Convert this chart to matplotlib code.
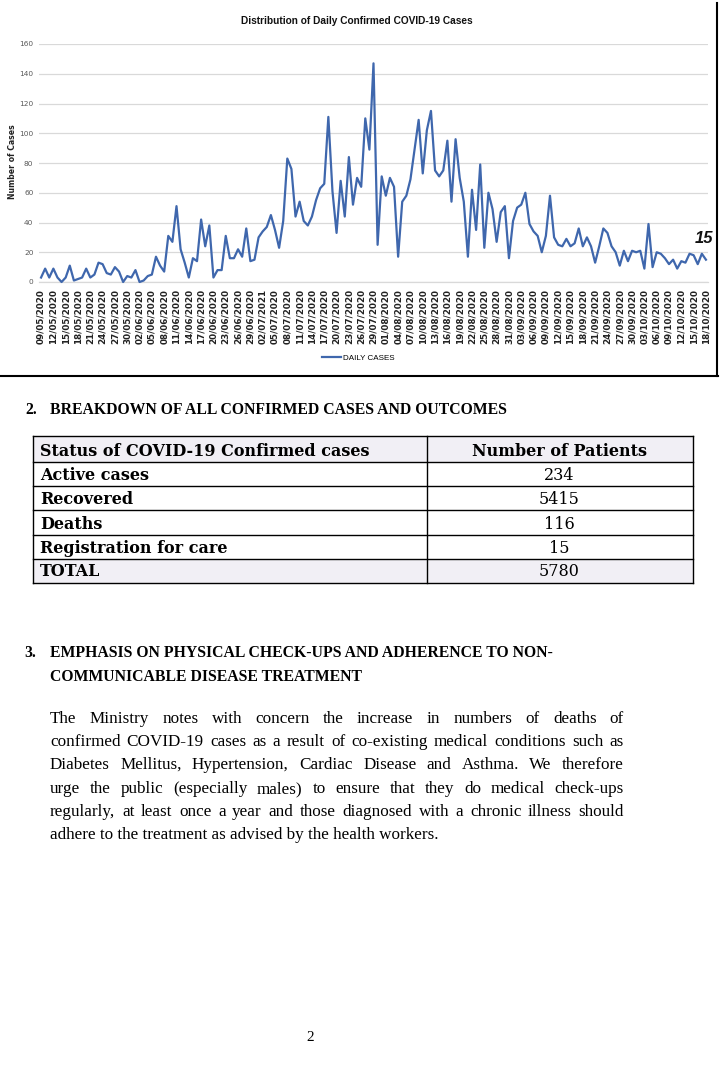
import matplotlib
matplotlib.use('Agg')
import matplotlib.pyplot as plt
from matplotlib.lines import Line2D
from matplotlib.patches import Rectangle

# ---------------- data ----------------
daily_cases = [
    3, 9, 3, 9, 3, 0, 3, 11, 1, 2, 3, 9, 3, 5, 13, 12, 6, 5, 10, 7, 0, 4, 3, 8, 0, 1, 4, 5,
    17, 11, 7, 31, 27, 51, 22, 13, 3, 16, 14, 42, 24, 38, 3, 8, 8, 31, 16, 16, 22, 17, 36, 14, 15, 30, 34, 37,
    45, 35, 23, 41, 83, 76, 44, 54, 41, 38, 44, 55, 63, 66, 111, 61, 33, 68, 44, 84, 52, 70, 64, 110, 89, 147, 25, 71,
    58, 70, 64, 17, 54, 58, 69, 89, 109, 73, 102, 115, 75, 71, 75, 95, 54, 96, 70, 54, 17, 62, 35, 79, 23, 60, 49, 27,
    47, 51, 16, 41, 50, 52, 60, 39, 34, 31, 20, 31, 58, 30, 25, 24, 29, 24, 26, 36, 24, 30, 24, 13, 24, 36, 33, 24,
    20, 11, 21, 14, 21, 20, 21, 9, 39, 10, 20, 19, 16, 12, 15, 9, 14, 13, 19, 18, 12, 19, 15,
]
tick_labels = [
    '09/05/2020', '12/05/2020', '15/05/2020', '18/05/2020', '21/05/2020', '24/05/2020', '27/05/2020', '30/05/2020',
    '02/06/2020', '05/06/2020', '08/06/2020', '11/06/2020', '14/06/2020', '17/06/2020', '20/06/2020', '23/06/2020',
    '26/06/2020', '29/06/2020', '02/07/2021', '05/07/2020', '08/07/2020', '11/07/2020', '14/07/2020', '17/07/2020',
    '20/07/2020', '23/07/2020', '26/07/2020', '29/07/2020', '01/08/2020', '04/08/2020', '07/08/2020', '10/08/2020',
    '13/08/2020', '16/08/2020', '19/08/2020', '22/08/2020', '25/08/2020', '28/08/2020', '31/08/2020', '03/09/2020',
    '06/09/2020', '09/09/2020', '12/09/2020', '15/09/2020', '18/09/2020', '21/09/2020', '24/09/2020', '27/09/2020',
    '30/09/2020', '03/10/2020', '06/10/2020', '09/10/2020', '12/10/2020', '15/10/2020', '18/10/2020',
]
y_ticks = [0, 20, 40, 60, 80, 100, 120, 140, 160]

status_labels = ['Active cases', 'Recovered', 'Deaths', 'Registration for care', 'TOTAL']
patient_counts = [234, 5415, 116, 15, 5780]

body_lines = [
    "The Ministry notes with concern the increase in numbers of deaths of",
    "confirmed COVID-19 cases as a result of co-existing medical conditions such as",
    "Diabetes Mellitus, Hypertension, Cardiac Disease and Asthma. We therefore",
    "urge the public (especially males) to ensure that they do medical check-ups",
    "regularly, at least once a year and those diagnosed with a chronic illness should",
    "adhere to the treatment as advised by the health workers.",
]

# ---------------- setup ----------------
W, H = 720, 1074
fig = plt.figure(figsize=(7.2, 10.74), dpi=100)
fig.patch.set_facecolor('white')
renderer = fig.canvas.get_renderer()

SERIF = ['Liberation Serif', 'DejaVu Serif']
SLAB = ['DejaVu Serif']
NARROW = ['Liberation Sans Narrow', 'Liberation Sans', 'DejaVu Sans']
SANS = ['DejaVu Sans']


def fx(x):
    return x / W


def fy(y):
    return 1 - y / H


def fit_size(s, target, family, weight='normal', style='normal', base=10.0):
    t = fig.text(0, 0, s, fontsize=base, family=family, fontweight=weight, fontstyle=style)
    w = t.get_window_extent(renderer=renderer).width
    t.remove()
    return base * target / w


# ---------------- chart ----------------
ax = fig.add_axes([fx(39), fy(282), 669 / W, 238 / H])
days = list(range(len(daily_cases)))
line, = ax.plot(days, daily_cases, color='#3f67ad', lw=1.6, clip_on=False, zorder=3)
ax.set_xlim(-0.5, len(daily_cases) - 0.5)
ax.set_ylim(y_ticks[0], y_ticks[-1])
ax.set_yticks(y_ticks)
ax.set_yticklabels([str(v) for v in y_ticks], fontsize=5.3, color='#595959', family=SANS)
ax.set_xticks(days[::3])
ax.set_xticklabels(tick_labels, rotation=90, fontsize=6.3, fontweight='bold', color='#222222', family=SANS)
ax.tick_params(axis='both', length=0)
ax.tick_params(axis='x', pad=5)
ax.tick_params(axis='y', pad=4)
ax.grid(axis='y', color='#d9d9d9', lw=0.9)
ax.set_axisbelow(True)
for sp in ['top', 'right', 'left']:
    ax.spines[sp].set_visible(False)
ax.spines['bottom'].set_color('#d9d9d9')
ax.spines['bottom'].set_linewidth(0.9)

ax.annotate(str(daily_cases[-1]), xy=(days[-1], daily_cases[-1]), xytext=(-2, 21),
            textcoords='offset pixels', ha='center', va='center', fontsize=12,
            fontstyle='italic', fontweight='bold', family=NARROW, color='#111111')

title = 'Distribution of Daily Confirmed COVID-19 Cases'
ts = fit_size(title, 232, NARROW, weight='bold')
fig.text(fx(357), fy(21), title, fontsize=ts, fontweight='bold', family=NARROW,
         ha='center', va='center', color='#111111')
fig.text(fx(13), fy(162), 'Number of Cases', rotation=90, fontsize=5.6, fontweight='bold',
         family=SANS, ha='center', va='center', color='#222222')

leg = fig.legend([line], ['DAILY CASES'], loc='center', bbox_to_anchor=(fx(358), fy(358)),
                 frameon=False, prop={'family': NARROW, 'size': 5.8}, handlelength=2.4,
                 handletextpad=0.2, borderaxespad=0)

# chart frame (right and bottom edges)
fig.add_artist(Line2D([fx(717), fx(717)], [fy(3), fy(376)], color='black', lw=1.5))
fig.add_artist(Line2D([fx(0), fx(718)], [fy(376), fy(376)], color='black', lw=1.5))

# ---------------- section 2 heading ----------------
h_size = fit_size('BREAKDOWN OF ALL CONFIRMED CASES AND OUTCOMES', 455, SERIF, weight='bold')
fig.text(fx(25), fy(414), '2.', fontsize=h_size, fontweight='bold', family=SERIF, va='baseline')
fig.text(fx(50), fy(414), 'BREAKDOWN OF ALL CONFIRMED CASES AND OUTCOMES', fontsize=h_size,
         fontweight='bold', family=SERIF, va='baseline')

# ---------------- table ----------------
row_edges = [436, 462, 486, 510, 535, 559, 583]
x_left, x_mid, x_right = 33, 427, 693
fill = '#f1eff5'
fig.add_artist(Rectangle((fx(x_left), fy(row_edges[1])), (x_right - x_left) / W,
                         (row_edges[1] - row_edges[0]) / H, facecolor=fill, edgecolor='none'))
fig.add_artist(Rectangle((fx(x_left), fy(row_edges[-1])), (x_right - x_left) / W,
                         (row_edges[-1] - row_edges[-2]) / H, facecolor=fill, edgecolor='none'))
for yy in row_edges:
    fig.add_artist(Line2D([fx(x_left), fx(x_right)], [fy(yy), fy(yy)], color='black', lw=1.0))
for xx in [x_left, x_mid, x_right]:
    fig.add_artist(Line2D([fx(xx), fx(xx)], [fy(row_edges[0]), fy(row_edges[-1])], color='black', lw=1.0))

t_size = fit_size('Status of COVID-19 Confirmed cases', 332, SLAB, weight='bold')
col2_c = (x_mid + x_right) / 2 - 0.5
fig.text(fx(40), fy(row_edges[1] - 6.5), 'Status of COVID-19 Confirmed cases', fontsize=t_size,
         fontweight='bold', family=SLAB, va='baseline')
fig.text(fx(col2_c), fy(row_edges[1] - 6.5), 'Number of Patients', fontsize=t_size,
         fontweight='bold', family=SLAB, va='baseline', ha='center')
for i, (lab, val) in enumerate(zip(status_labels, patient_counts)):
    yb = row_edges[i + 2] - 6.5
    fig.text(fx(40), fy(yb), lab, fontsize=t_size, fontweight='bold', family=SLAB, va='baseline')
    fig.text(fx(col2_c), fy(yb), str(val), fontsize=t_size, family=SLAB, va='baseline', ha='center')

# ---------------- section 3 ----------------
fig.text(fx(24), fy(657), '3.', fontsize=h_size, fontweight='bold', family=SERIF, va='baseline')
fig.text(fx(50), fy(657), 'EMPHASIS ON PHYSICAL CHECK-UPS AND ADHERENCE TO NON-', fontsize=h_size,
         fontweight='bold', family=SERIF, va='baseline')
fig.text(fx(50), fy(681), 'COMMUNICABLE DISEASE TREATMENT', fontsize=h_size,
         fontweight='bold', family=SERIF, va='baseline')

bx0, bx1 = 50, 624
b_size = min(12.3, fit_size(body_lines[4], 568, SERIF))
baselines = [723, 746, 769, 793, 816, 839]
for k, (ln, yb) in enumerate(zip(body_lines, baselines)):
    if k == len(body_lines) - 1:
        fig.text(fx(bx0), fy(yb), ln, fontsize=b_size, family=SERIF, va='baseline')
        continue
    words = ln.split(' ')
    objs = [fig.text(0, fy(yb), w_, fontsize=b_size, family=SERIF, va='baseline') for w_ in words]
    widths = [o.get_window_extent(renderer=renderer).width for o in objs]
    gap = (bx1 - bx0 - sum(widths)) / (len(words) - 1)
    xc = bx0
    for o, w_ in zip(objs, widths):
        o.set_x(fx(xc))
        xc += w_ + gap

fig.text(fx(310), fy(1041), '2', fontsize=11, family=SERIF, ha='center', va='baseline')

fig.savefig('out.png', dpi=100, facecolor='white')
